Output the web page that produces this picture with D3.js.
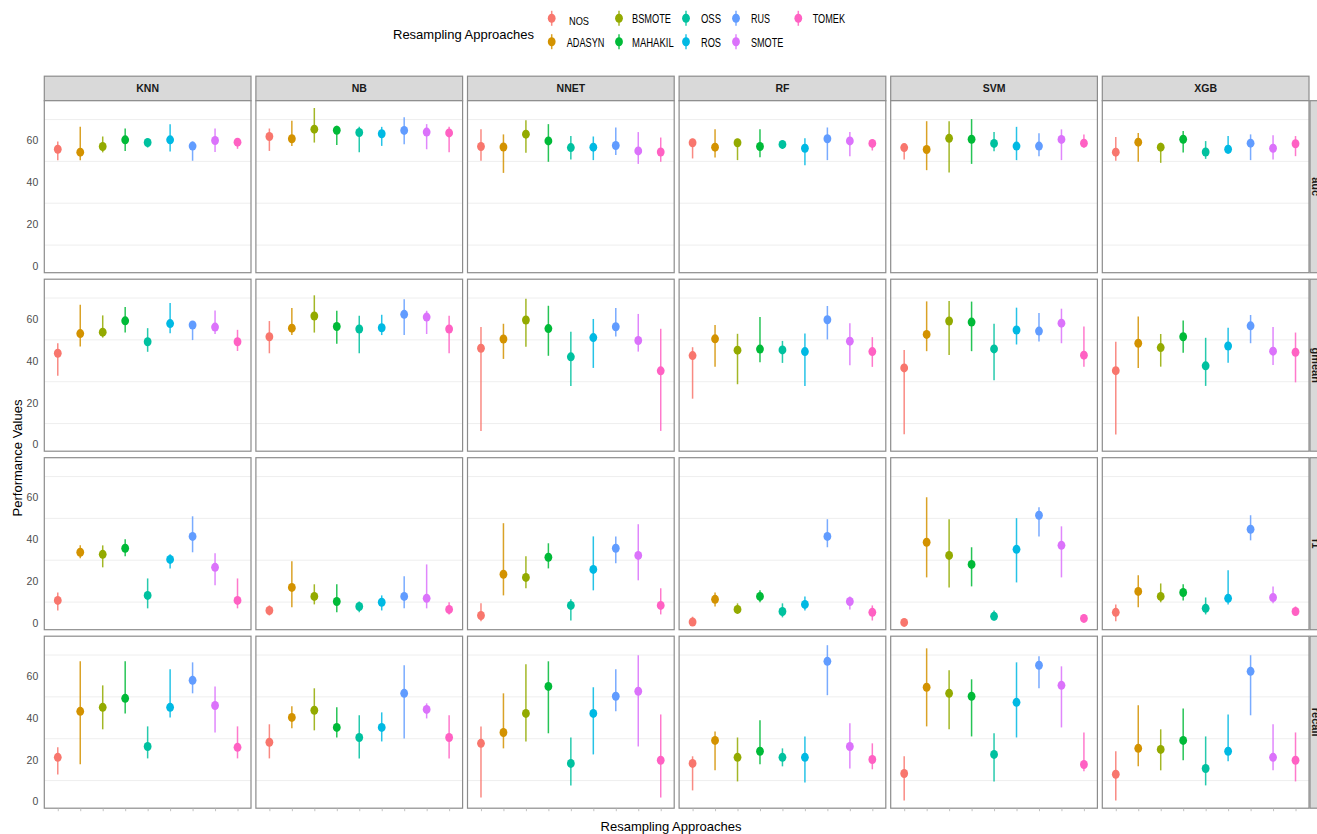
<!DOCTYPE html>
<html><head><meta charset="utf-8">
<script src="https://cdn.jsdelivr.net/npm/d3@7"></script>
<style>body{margin:0;background:#fff}svg{display:block}</style>
</head><body><svg id="c" width="1317" height="834"></svg>
<script>
const approaches = ["NOS","ADASYN","BSMOTE","MAHAKIL","OSS","ROS","RUS","SMOTE","TOMEK"];
const colors = ["#F8766D","#D39200","#93AA00","#00BA38","#00C19F","#00B9E3","#619CFF","#DB72FB","#FF61C3"];
const classifiers = ["KNN","NB","NNET","RF","SVM","XGB"];
const metrics = ["auc","gmean","f1","recall"];
const yTicks = [0,20,40,60];
const yGrid = [10,30,50,70];

const aucMean = [
 [55.8,54.4,57.1,60.3,59.0,60.3,57.3,60.0,59.2],
 [61.9,60.8,65.4,64.9,63.8,63.2,64.8,64.0,63.6],
 [57.1,56.9,63.0,59.8,56.6,56.8,57.6,55.0,54.5],
 [58.9,56.8,58.9,57.1,58.1,56.3,60.8,59.8,58.6],
 [56.6,55.7,61.0,60.6,58.6,57.3,57.3,60.5,58.7],
 [54.4,59.2,56.8,60.6,54.5,55.8,58.7,56.3,58.4]];
const aucLow = [
 [50.6,50.6,54.3,55.0,56.6,54.7,50.3,54.5,56.0],
 [55.0,57.4,59.0,57.8,54.4,57.4,58.2,55.8,54.4],
 [50.3,44.5,54.1,49.8,50.9,50.6,53.1,48.8,49.8],
 [51.4,51.9,50.6,52.0,56.0,48.2,50.6,52.5,55.2],
 [50.9,45.8,44.7,48.8,54.9,50.6,52.5,50.6,56.6],
 [50.3,49.8,49.3,54.3,51.2,53.6,50.6,50.9,52.5]];
const aucHigh = [
 [59.5,66.5,61.9,65.7,60.8,67.8,59.5,65.7,61.0],
 [65.7,69.4,75.5,67.0,66.5,66.5,71.1,67.8,66.5],
 [65.3,62.9,69.7,67.8,62.1,61.9,66.2,64.0,61.4],
 [60.8,65.3,60.8,65.3,59.8,61.0,66.2,64.1,60.3],
 [58.2,69.2,69.2,70.2,64.1,66.5,63.5,65.3,62.9],
 [61.6,63.6,58.9,64.5,59.7,62.1,62.9,62.5,62.1]];

const gmeanMean = [
 [43.6,53.0,53.7,59.1,49.1,57.8,57.1,56.1,49.1],
 [51.5,55.6,61.4,56.4,55.2,55.8,62.2,60.9,55.2],
 [46.0,50.4,59.5,55.4,41.9,51.1,56.3,49.7,35.2],
 [42.5,50.5,45.1,45.6,45.2,44.4,59.6,49.4,44.4],
 [36.6,52.6,59.0,58.5,45.7,54.7,54.2,58.0,42.7],
 [35.3,48.4,46.3,51.5,37.6,47.1,56.7,44.6,44.1]];
const gmeanLow = [
 [32.9,46.8,51.1,53.5,44.3,53.2,49.9,52.8,44.7],
 [43.6,52.3,53.5,48.2,43.6,52.3,52.3,52.8,43.6],
 [6.5,40.9,46.7,42.4,28.0,36.6,51.6,44.4,6.5],
 [21.9,37.1,28.8,39.3,39.0,28.0,50.2,37.9,37.1],
 [4.9,44.6,42.8,44.6,30.7,47.8,49.2,48.4,37.2],
 [4.8,36.6,37.2,43.9,28.0,39.1,48.4,38.0,29.7]];
const gmeanHigh = [
 [48.4,66.8,61.7,65.7,55.6,67.6,58.8,64.1,54.8],
 [59.0,65.2,71.3,63.9,61.5,62.0,69.4,63.9,61.5],
 [56.1,57.7,69.7,66.3,53.9,60.0,65.2,62.4,55.3],
 [46.5,57.1,52.9,60.9,49.5,53.0,66.2,58.0,51.3],
 [45.2,68.4,68.6,68.3,57.7,65.4,62.8,64.9,56.4],
 [49.1,61.2,52.8,59.3,51.0,55.8,61.9,56.1,53.5]];

const f1Mean = [
 [10.8,33.8,32.8,35.7,13.2,30.4,41.4,26.6,10.8],
 [6.0,17.0,12.7,10.3,7.9,9.9,12.7,11.8,6.5],
 [3.6,23.3,21.8,31.4,8.4,25.6,35.7,32.3,8.4],
 [0.5,11.3,6.5,12.7,5.5,8.9,41.4,10.3,5.1],
 [0.3,38.6,32.3,28.0,3.2,35.2,51.5,37.1,2.2],
 [5.1,15.1,12.7,14.6,7.0,11.8,44.8,12.2,5.5]];
const f1Low = [
 [6.0,30.9,26.6,31.9,7.0,26.1,33.8,18.0,7.0],
 [3.6,7.5,8.9,5.1,5.1,6.0,7.0,7.0,4.1],
 [0.8,13.2,16.6,26.1,1.2,15.6,28.5,20.4,4.1],
 [0.0,7.9,4.6,9.9,2.7,6.0,36.2,6.5,1.2],
 [0.0,21.8,17.0,17.5,1.2,19.4,41.4,21.8,1.2],
 [0.8,7.5,9.9,10.8,4.1,8.9,39.5,9.4,4.1]];
const f1High = [
 [14.6,37.1,37.1,40.0,21.3,32.8,51.0,33.3,21.3],
 [8.4,29.5,18.5,18.5,10.3,13.2,22.3,28.0,9.9],
 [9.4,47.7,31.9,38.1,11.3,41.4,41.4,47.2,16.6],
 [3.0,14.6,9.4,15.6,9.4,12.7,49.6,12.7,8.4],
 [1.7,60.1,49.6,36.2,6.0,50.1,55.3,46.2,4.1],
 [8.9,22.8,18.9,18.5,12.2,25.2,51.5,17.5,7.9]];

const recallMean = [
 [21.1,43.1,45.0,49.3,26.3,45.0,57.9,45.9,25.9],
 [28.3,40.2,43.6,35.4,30.6,35.4,51.7,44.0,30.6],
 [27.8,33.0,42.1,55.0,18.2,42.1,50.3,52.7,19.7],
 [18.2,29.2,21.1,24.0,21.1,21.1,67.0,26.3,20.1],
 [13.4,54.6,51.7,50.3,22.5,47.4,65.1,55.5,17.7],
 [13.0,25.4,24.9,29.2,15.8,24.0,62.2,21.1,19.7]];
const recallLow = [
 [12.9,17.8,34.5,42.1,20.6,40.2,51.7,33.0,20.6],
 [20.6,35.0,34.0,30.6,20.6,28.7,30.1,39.7,20.6],
 [1.9,25.4,28.7,32.6,7.7,22.5,43.1,26.3,1.9],
 [5.3,14.9,9.6,17.8,16.8,9.1,50.8,15.8,15.4],
 [0.5,35.9,34.5,31.1,9.6,30.6,54.1,35.4,14.4],
 [0.5,16.8,14.9,19.7,7.7,19.2,41.2,14.9,9.6]];
const recallHigh = [
 [25.9,67.0,55.5,67.0,35.9,63.2,66.5,55.0,35.9],
 [36.9,45.5,54.1,45.0,41.2,42.6,65.1,46.9,41.2],
 [35.9,51.7,65.6,67.0,30.6,54.6,63.2,69.9,41.6],
 [21.6,33.5,30.6,38.8,25.4,31.1,74.7,37.4,27.8],
 [21.6,73.2,62.7,58.4,32.6,66.5,69.4,64.6,33.0],
 [24.0,46.0,34.5,44.5,31.1,41.6,69.9,36.9,33.0]];

const means = [aucMean, gmeanMean, f1Mean, recallMean];
const lows = [aucLow, gmeanLow, f1Low, recallLow];
const highs = [aucHigh, gmeanHigh, f1High, recallHigh];

const svg = d3.select("#c");
const font = "'Liberation Sans', Arial, Helvetica, sans-serif";
const color = d3.scaleOrdinal().domain(approaches).range(colors);

const panelW = 206.7, panelH = 172, colStep = 211.6, rowStep = 178.5;
const left0 = 44.3, top0 = 100.7, stripH = 24.5;

// facet scales
const colX = d3.scaleLinear().domain([0,1]).range([left0, left0 + colStep]);
const rowY = d3.scaleLinear().domain([0,1]).range([top0, top0 + rowStep]);

// strips on top
classifiers.forEach((c, ci) => {
  const x0 = colX(ci);
  svg.append("rect").attr("x", x0).attr("y", top0 - stripH).attr("width", panelW).attr("height", stripH)
    .attr("fill", "#d9d9d9").attr("stroke", "#8c8c8c").attr("stroke-width", 1.2);
  svg.append("text").attr("x", x0 + panelW/2).attr("y", top0 - stripH/2).attr("text-anchor","middle")
    .attr("dominant-baseline","central").attr("font-family", font).attr("font-weight","bold")
    .attr("font-size", 10.5).attr("fill","#1a1a1a").text(c);
});

metrics.forEach((m, mi) => {
  const t = rowY(mi);
  const y = d3.scaleLinear().domain([-3.2, 79]).range([t + panelH, t]);
  // right strip (cut off)
  const sx = colX(5) + panelW + 1;
  svg.append("rect").attr("x", sx).attr("y", t).attr("width", stripH).attr("height", panelH)
    .attr("fill", "#d9d9d9").attr("stroke", "#8c8c8c").attr("stroke-width", 1.2);
  svg.append("text").attr("transform", `translate(${sx + 2},${t + panelH/2}) rotate(90)`)
    .attr("text-anchor","middle").attr("font-family", font).attr("font-weight","bold")
    .attr("font-size", 11).attr("fill","#1a1a1a").text(m);

  // y axis labels
  const ya = svg.append("g").attr("transform", `translate(${left0},0)`)
    .call(d3.axisLeft(y).tickValues(yTicks).tickSize(0).tickPadding(6));
  ya.select(".domain").remove();
  ya.selectAll("text").attr("font-family", font).attr("font-size", 10.5).attr("fill", "#4d4d4d");

  classifiers.forEach((c, ci) => {
    const x0 = colX(ci);
    const x = d3.scalePoint().domain(approaches).range([x0, x0 + panelW]).padding(0.6);
    const g = svg.append("g");
    g.append("rect").attr("x", x0).attr("y", t).attr("width", panelW).attr("height", panelH).attr("fill","#fff");
    g.selectAll("line.grid").data(yGrid).join("line").attr("class","grid")
      .attr("x1", x0).attr("x2", x0 + panelW).attr("y1", d => y(d)).attr("y2", d => y(d))
      .attr("stroke", "#ececec").attr("stroke-width", 0.9);
    const rows = approaches.map((a, ai) => ({a, v: means[mi][ci][ai], lo: lows[mi][ci][ai], hi: highs[mi][ci][ai]}));
    g.selectAll("line.rng").data(rows).join("line").attr("class","rng")
      .attr("x1", d => x(d.a)).attr("x2", d => x(d.a)).attr("y1", d => y(d.lo)).attr("y2", d => y(d.hi))
      .attr("stroke", d => color(d.a)).attr("stroke-width", 1.5).attr("stroke-opacity", 0.85);
    g.selectAll("ellipse").data(rows).join("ellipse")
      .attr("cx", d => x(d.a)).attr("cy", d => y(d.v)).attr("rx", 3.9).attr("ry", 4.5)
      .attr("fill", d => color(d.a));
    g.append("rect").attr("x", x0).attr("y", t).attr("width", panelW).attr("height", panelH)
      .attr("fill","none").attr("stroke","#8c8c8c").attr("stroke-width", 1.2);
    if (mi === metrics.length - 1) {
      const xa = svg.append("g").attr("transform", `translate(0,${t + panelH})`)
        .call(d3.axisBottom(x).tickSize(3).tickFormat(""));
      xa.select(".domain").remove();
      xa.selectAll("line").attr("stroke", "#b3b3b3").attr("stroke-width", 0.8);
    }
  });
});

// axis titles
svg.append("text").attr("transform", "translate(22,458) rotate(-90)").attr("text-anchor","middle")
  .attr("font-family", font).attr("font-size", 13).attr("fill","#000").text("Performance Values");
svg.append("text").attr("x", 671).attr("y", 831).attr("text-anchor","middle")
  .attr("font-family", font).attr("font-size", 13).attr("fill","#000").text("Resampling Approaches");

// legend
svg.append("text").attr("x", 393).attr("y", 38.8).attr("font-family", font).attr("font-size", 13)
  .attr("fill","#000").text("Resampling Approaches");
const keyX = [551.7, 619, 686, 736, 798.3];
const keyY = [18.3, 41.7];
const labX = [[569, 566.7],[632,632],[701,701],[751,751],[812.7,812.7]];
const labW = {NOS:20, ADASYN:37.7, BSMOTE:39, MAHAKIL:41.7, OSS:20, ROS:20, RUS:19, SMOTE:32.3, TOMEK:32.3};
approaches.forEach((a, i) => {
  const col = Math.floor(i / 2), row = i % 2;
  const kx = keyX[col], ky = keyY[row];
  svg.append("line").attr("x1", kx).attr("x2", kx).attr("y1", ky - 7.5).attr("y2", ky + 7.5)
    .attr("stroke", color(a)).attr("stroke-width", 1.5).attr("stroke-opacity", 0.85);
  svg.append("ellipse").attr("cx", kx).attr("cy", ky).attr("rx", 3.9).attr("ry", 4.5).attr("fill", color(a));
  const small = a === "NOS";
  svg.append("text").attr("x", labX[col][row]).attr("y", small ? 25 : ky + 4.8)
    .attr("font-family", font).attr("font-size", small ? 10.5 : 12.5).attr("fill","#000")
    .attr("textLength", labW[a]).attr("lengthAdjust","spacingAndGlyphs").text(a);
});
</script></body></html>
